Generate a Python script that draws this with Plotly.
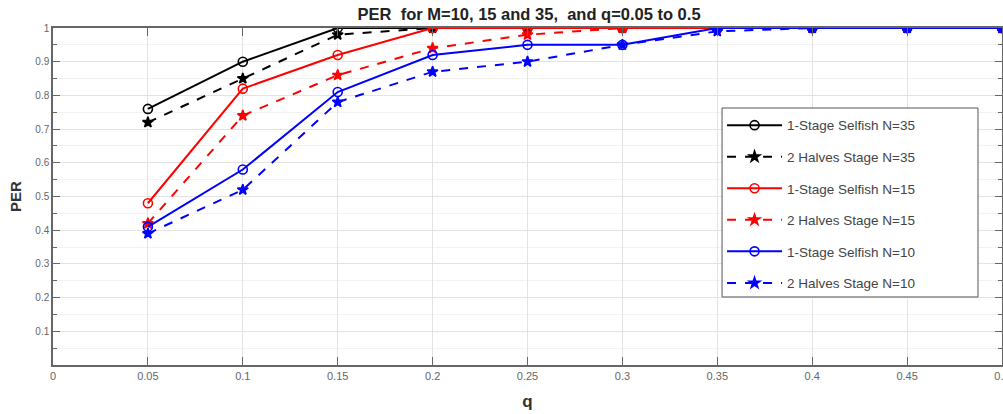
import plotly.graph_objects as go

q = [0.05, 0.10, 0.15, 0.20, 0.25, 0.30, 0.35, 0.40, 0.45, 0.50]

sel35 = [0.76, 0.90, 1.00, 1.00, 1.00, 1.00, 1.00, 1.00, 1.00, 1.00]
half35 = [0.72, 0.85, 0.98, 1.00, 1.00, 1.00, 1.00, 1.00, 1.00, 1.00]
sel15 = [0.48, 0.82, 0.92, 1.00, 1.00, 1.00, 1.00, 1.00, 1.00, 1.00]
half15 = [0.42, 0.74, 0.86, 0.94, 0.98, 1.00, 1.00, 1.00, 1.00, 1.00]
sel10 = [0.41, 0.58, 0.81, 0.92, 0.95, 0.95, 1.00, 1.00, 1.00, 1.00]
half10 = [0.39, 0.52, 0.78, 0.87, 0.90, 0.95, 0.99, 1.00, 1.00, 1.00]

names = ["1-Stage Selfish N=35", "2 Halves Stage N=35",
         "1-Stage Selfish N=15", "2 Halves Stage N=15",
         "1-Stage Selfish N=10", "2 Halves Stage N=10"]
series = [sel35, half35, sel15, half15, sel10, half10]
colors = ["#000000", "#000000", "#ff0000", "#ff0000", "#0000ff", "#0000ff"]

x_tickvals = [0, 0.05, 0.1, 0.15, 0.2, 0.25, 0.3, 0.35, 0.4, 0.45, 0.5]
x_ticktext = ["0", "0.05", "0.1", "0.15", "0.2", "0.25", "0.3", "0.35", "0.4", "0.45", "0.5"]
y_tickvals = [0.1, 0.2, 0.3, 0.4, 0.5, 0.6, 0.7, 0.8, 0.9, 1.0]
y_ticktext = ["0.1", "0.2", "0.3", "0.4", "0.5", "0.6", "0.7", "0.8", "0.9", "1"]

fig = go.Figure()
for i, (nm, ys, col) in enumerate(zip(names, series, colors)):
    solid = (i % 2 == 0)
    fig.add_trace(go.Scatter(
        x=q, y=ys, name=nm, mode="lines+markers",
        legendgroup="g%d" % i,
        line=dict(color=col, width=2, dash="solid" if solid else "dash"),
        marker=dict(symbol="circle-open" if solid else "star",
                    size=9 if solid else 8, color=col,
                    line=dict(color=col, width=1.6)),
    ))

# legend frame (wider than plotly's auto-sized box, as in the reference)
fig.add_shape(type="rect", xref="paper", yref="paper",
              x0=0.705, x1=0.9747, y0=0.2018, y1=0.7626,
              line=dict(color="#555", width=1), fillcolor="white", layer="above")

fig.update_layout(
    width=1003, height=414,
    margin=dict(l=53, r=1, t=28, b=49, autoexpand=False),
    paper_bgcolor="white", plot_bgcolor="white",
    font=dict(family="Arial, Liberation Sans, sans-serif", color="#333"),
    title=dict(text="<b>PER\u00a0 for M=10, 15 and 35,\u00a0 and q=0.05 to 0.5</b>",
               x=0.5275, xanchor="center", y=0.966, yanchor="middle",
               font=dict(size=16.5, color="#222")),
    legend=dict(x=0.705, y=0.757, xanchor="left", yanchor="top",
                bgcolor="rgba(0,0,0,0)", borderwidth=0,
                font=dict(size=13.5, color="#444"),
                itemwidth=55, tracegroupgap=11,
                traceorder="grouped"),
    showlegend=True,
)

fig.update_xaxes(
    range=[0, 0.5], tickvals=x_tickvals, ticktext=x_ticktext,
    automargin=False, ticklabeloverflow="allow",
    showgrid=True, gridcolor="#e3e3e3", gridwidth=1,
    showline=True, linecolor="#666", linewidth=1.5, mirror="ticks",
    ticks="inside", ticklen=8, tickcolor="#666",
    tickfont=dict(size=11, color="#666"),
    zeroline=False,
    title=dict(text="<b>q</b>", font=dict(size=17, color="#333"), standoff=14),
)
fig.update_yaxes(
    range=[0, 1], tickvals=y_tickvals, ticktext=y_ticktext,
    automargin=False,
    showgrid=True, gridcolor="#e3e3e3", gridwidth=1,
    showline=True, linecolor="#666", linewidth=1.5, mirror="ticks",
    ticks="inside", ticklen=7, tickcolor="#666",
    tickfont=dict(size=10, color="#666"),
    minor=dict(dtick=0.05, tick0=0, ticks="inside", ticklen=4, tickcolor="#666",
               showgrid=True, gridcolor="#f2f2f2"),
    zeroline=False,
    title=dict(text="<b>PER</b>", font=dict(size=15, color="#333"), standoff=10),
)

fig.write_html(
    "out.html",
    config={"displayModeBar": False},
    post_script="document.body.style.margin='0';document.documentElement.style.overflow='hidden';",
)
